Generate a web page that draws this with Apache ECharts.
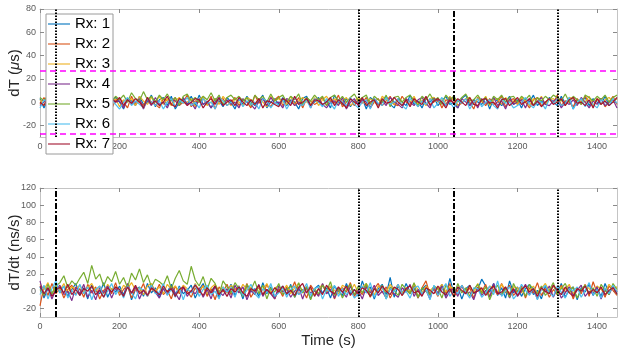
<!DOCTYPE html>
<html>
<head>
<meta charset="utf-8">
<script src="https://cdn.jsdelivr.net/npm/echarts@6/dist/echarts.min.js"></script>
<style>
	html, body { margin: 0; padding: 0; background: #fff; }
	#main { width: 626px; height: 359px; }
</style>
</head>
<body>
<div id="main"></div>
<script>
// sample times (s), one every 10 s
var times = [ 0, 10, 20, 30, 40, 50, 60, 70, 80, 90,
		100, 110, 120, 130, 140, 150, 160, 170, 180, 190,
		200, 210, 220, 230, 240, 250, 260, 270, 280, 290,
		300, 310, 320, 330, 340, 350, 360, 370, 380, 390,
		400, 410, 420, 430, 440, 450, 460, 470, 480, 490,
		500, 510, 520, 530, 540, 550, 560, 570, 580, 590,
		600, 610, 620, 630, 640, 650, 660, 670, 680, 690,
		700, 710, 720, 730, 740, 750, 760, 770, 780, 790,
		800, 810, 820, 830, 840, 850, 860, 870, 880, 890,
		900, 910, 920, 930, 940, 950, 960, 970, 980, 990,
		1000, 1010, 1020, 1030, 1040, 1050, 1060, 1070, 1080, 1090,
		1100, 1110, 1120, 1130, 1140, 1150, 1160, 1170, 1180, 1190,
		1200, 1210, 1220, 1230, 1240, 1250, 1260, 1270, 1280, 1290,
		1300, 1310, 1320, 1330, 1340, 1350, 1360, 1370, 1380, 1390,
		1400, 1410, 1420, 1430, 1440, 1450 ];

var names = [ 'Rx: 1', 'Rx: 2', 'Rx: 3', 'Rx: 4', 'Rx: 5', 'Rx: 6', 'Rx: 7' ];
var colors = [ '#0072BD', '#D95319', '#EDB120', '#7E2F8E', '#77AC30', '#4DBEEE', '#A2142F' ];

// dT (us)
var dT1 = [ 3,-5,2,-6,4,0,-3,5,-2,3, -4,1,5,-3,0,6,-5,2,-1,4, 0,-6,3,1,-3,5,-2,0,6,-4,
		2,4,-3,5,-6,0,3,-2,5,-3, 6,-2,0,-5,3,1,-4,4,0,-6, 3,-2,5,0,-3,1,6,-5,0,3,
		-2,4,-3,2,0,-6,3,5,-2,0, 4,-3,1,-5,6,0,-2,3,-4,1, 0,3,-6,4,1,-3,0,5,-2,-5,
		3,0,-3,6,-2,1,-5,3,0,4, -3,1,5,-2,0,-5,3,6,-3,2, 0,-2,4,-6,3,1,-3,0,5,-2,
		2,-5,3,0,6,-3,1,-2,4,0, -3,5,-1,3,-6,2,0,4,-3,3, 0,-2,5,-3,1,3 ];
var dT2 = [ -2,4,-3,0,3,-5,6,1,-3,0, 5,-1,-4,3,1,-3,0,4,-6,2, 3,0,-5,5,-2,1,-3,4,0,-2,
		-5,3,1,-2,4,-3,0,6,-4,1, 0,3,-2,5,-6,2,3,-3,0,4, -3,2,0,-5,6,-1,3,0,-4,2,
		5,-3,1,0,-2,4,-5,3,1,-2, 0,4,-3,2,-1,6,-4,0,3,-3, 2,-1,4,-5,0,3,-3,1,5,-2,
		-3,5,0,-2,3,-4,1,4,-2,0, 3,-5,2,0,4,-3,-1,3,0,-6, 4,1,-3,3,-2,0,5,-4,1,3,
		-2,3,0,-5,2,4,-3,0,3,-1, 6,-3,1,0,-4,3,-2,5,0,-3, 2,3,-4,0,5,-2 ];
var dT3 = [ 2,-3,4,0,-2,3,-4,2,5,-2, 0,3,-1,5,-3,2,6,-1,0,3, -4,2,0,3,-3,5,1,-2,4,0,
		5,-2,3,-3,1,4,-1,0,3,-4, 2,5,-3,0,3,-2,5,1,-3,3, 0,-3,4,2,-2,3,0,-4,5,1,
		3,0,-2,5,-3,1,4,0,-2,4, -3,2,5,0,3,-2,1,4,-3,0, 4,1,-2,3,0,-3,5,2,0,-2,
		2,-3,3,0,5,-2,1,-3,3,4, 0,3,-2,5,1,-3,0,3,4,-2, 3,0,5,-3,2,3,-2,4,0,1,
		-2,4,1,-3,3,0,5,-2,2,3, 0,2,-3,4,3,-2,1,0,5,-3, 3,-2,2,4,0,3 ];
var dT4 = [ -3,0,4,-5,1,-2,3,-6,0,4, -2,3,-5,0,4,-3,1,-6,3,0, 1,-5,3,-2,0,3,-6,2,-3,4,
		-2,0,-5,3,1,-3,4,-2,0,-6, 3,-2,1,-5,0,4,-3,2,-2,0, -5,3,0,-2,-6,1,3,-3,4,-1,
		0,-5,3,1,-3,0,-2,4,-5,2, 3,-2,-5,0,1,-3,4,-6,0,3, -3,2,0,-5,3,-2,1,-3,4,0,
		-2,-5,3,0,-3,2,4,-1,-5,3, 1,0,-3,4,-2,-5,3,0,-3,2, -5,3,-1,0,4,-3,1,-6,3,-2,
		0,2,-5,3,-3,0,4,-2,-3,1, 3,-5,0,-2,2,-3,4,0,-5,1, -2,3,-3,0,2,-5 ];
var dT5 = [ 4,1,6,-2,5,2,8,0,4,6, 1,7,2,5,-2,6,3,8,1,5, 2,6,0,8,3,1,9,2,5,0,
		6,2,7,1,4,-3,5,7,1,4, 0,5,2,8,1,6,-2,4,6,2, 5,1,4,-3,6,2,5,0,7,1,
		4,6,0,5,2,7,-2,4,1,6, 2,5,-3,4,6,1,5,0,4,7, 1,4,6,-2,5,2,0,6,-4,4,
		5,0,4,6,1,-3,5,2,7,1, 4,-2,6,2,5,0,4,7,1,2, 6,1,4,-2,5,2,6,0,4,5,
		0,5,2,6,-3,4,1,5,2,6, 4,1,7,0,5,2,-2,6,4,1, 5,2,6,0,4,6 ];
var dT6 = [ -5,2,-1,4,-6,0,3,-3,1,-4, 3,-3,0,-6,1,4,-5,0,3,-2, -6,0,4,-3,1,-2,-5,3,0,-3,
		1,-6,0,3,-4,2,-1,4,-3,0, -5,3,-1,0,-6,4,1,-3,0,-2, 3,-4,1,-2,0,-6,3,1,-5,0,
		-3,2,-6,0,4,-1,-3,2,-5,3, 0,-4,3,-1,-6,2,0,-3,4,-2, -5,0,2,-6,3,-1,-3,4,-2,0,
		2,-3,-6,3,0,-4,1,-2,3,-5, -1,4,-3,0,-5,2,-1,3,-6,0, 3,-4,0,2,-3,-6,3,-1,0,-5,
		-3,0,4,-2,-5,1,0,-6,3,-1, 2,-3,-1,4,-6,0,3,-4,1,-2, -5,2,0,-3,3,-1 ];
var dT7 = [ 0,-3,4,-2,3,-5,2,0,-3,5, -2,3,-4,1,0,5,-3,-1,3,0, 4,-3,2,-1,3,0,-5,4,-2,1,
		-3,0,5,-2,-4,3,1,-3,0,3, 2,-5,0,3,-2,4,-3,0,2,-3, 4,0,-3,2,-2,3,-5,1,0,-2,
		-4,3,1,-3,5,-2,0,3,-3,2, 1,-2,0,4,-3,2,-1,-5,3,0, -2,4,-3,0,2,-5,3,-1,0,4,
		0,-3,2,-4,3,0,-2,5,-3,1, 3,0,-5,2,-1,3,0,-3,4,-2, -3,2,3,-1,0,-5,2,3,-3,0,
		4,-2,0,3,-3,1,-4,0,3,-2, 0,3,-3,2,4,-1,0,-3,2,-5, 3,-2,1,-3,0,4 ];

// dT/dt (ns/s)
var rate1 = [ 5,-8,3,-4,8,-2,6,-6,2,9, -5,4,-9,7,0,-3,10,-7,3,-1, 6,-4,8,-10,2,5,-6,9,-2,4,
		-7,3,-1,8,-5,6,-3,1,7,-8, 2,9,-4,0,6,-7,3,-2,8,-5, 4,-9,7,-1,3,-6,10,-3,5,-8,
		1,6,-4,8,-7,2,-1,5,-9,3, 7,-2,4,-8,6,0,-5,9,-3,2, -6,12,-2,5,-9,3,8,-4,16,-7,
		6,-3,9,-1,4,-8,2,7,-5,3, -4,8,-6,15,-2,5,-9,3,7,-3, 2,14,6,-1,9,-5,4,-8,12,-2,
		5,-6,3,8,-4,1,-9,6,-2,7, -3,9,-7,2,5,-10,4,-1,8,-5, 3,-6,9,-2,6,-4 ];
var rate2 = [ -17,6,-5,9,-3,4,-8,2,7,-4, 3,-7,8,-2,5,-9,1,6,-3,10, -5,2,7,-8,4,-1,9,-6,3,-2,
		8,-4,1,-9,6,-3,5,0,-7,4, -2,7,-6,3,-10,5,-1,8,-4,2, 6,-3,9,-7,1,4,-5,8,-2,-9,
		3,-6,5,-1,11,-4,2,-8,7,0, -5,8,-3,6,-9,2,4,-1,10,-6, 2,-4,7,-7,3,9,-2,5,-8,1,
		8,-5,2,-3,6,-8,4,12,-4,3, -6,5,-2,9,-7,1,6,-3,4,-8, 5,-1,8,-6,2,-4,9,-2,7,-5,
		1,6,-8,4,-2,10,-5,3,-7,2, -4,7,-1,5,-9,3,-3,8,-6,11, -2,4,-7,6,1,-5 ];
var rate3 = [ 8,2,10,-3,6,1,9,-2,5,3, 7,-1,4,9,0,6,-3,8,2,5, -2,7,3,10,1,4,-4,6,9,0,
		5,-3,8,2,6,-1,7,3,-2,9, 1,6,-3,4,8,0,5,-2,7,3, -1,8,2,5,-4,6,1,9,-2,4,
		6,0,7,-3,4,9,-1,5,2,-4, 3,8,-2,6,1,-3,7,4,0,8, -2,5,9,1,-4,6,3,-1,8,2,
		7,-3,4,0,9,2,-2,6,1,5, 2,8,-1,5,3,-4,7,0,6,-2, 9,1,-3,6,4,-1,8,2,-2,5,
		4,-2,7,1,6,-3,3,9,0,6, -1,5,2,8,-3,4,0,7,3,-2, 6,2,-1,8,3,5 ];
var rate4 = [ 12,-6,4,-9,2,7,-4,0,-11,5, -3,8,-7,1,-10,4,-2,6,-8,3, 0,-6,9,-3,5,-9,2,-5,7,-1,
		-8,3,-4,6,-2,-10,5,-6,1,-3, 4,-7,2,-9,6,-1,-5,3,-8,7, -2,5,-10,1,-4,8,-6,2,-3,-9,
		6,-1,3,-7,0,5,-9,4,-2,1, -6,9,-3,2,-8,4,-1,-7,6,-4, 1,-9,5,-2,7,-5,0,-8,3,-3,
		-7,4,-1,8,-6,2,-4,1,-9,5, -2,6,-8,0,3,-6,7,-3,-1,-10, 4,-5,1,-7,9,-2,-4,5,-8,2,
		-6,0,8,-4,2,-9,3,-1,6,-7, 3,-8,-2,5,-5,1,7,-6,0,-3, 5,-9,2,-4,6,-1 ];
var rate5 = [ 2,-5,8,-3,6,10,18,4,12,7, 15,22,9,30,14,20,6,17,11,23, 8,16,4,21,13,26,10,19,5,14,
		11,7,18,3,15,24,12,8,29,13, 6,17,2,15,9,-4,12,5,-2,10, 3,-6,8,1,12,-3,7,-9,4,-1,
		9,-4,2,6,-7,10,-2,5,-10,3, -3,7,0,11,-5,4,-8,2,8,-4, 6,-2,9,-6,3,-1,7,-9,5,1,
		-5,8,2,-3,10,-7,4,0,-4,6, 3,-8,7,1,-5,9,-2,4,-6,2, 8,-3,5,-10,1,7,-4,3,-7,9,
		-1,4,-6,8,2,-3,6,-5,1,10, -4,3,9,-2,5,-8,2,7,-3,4, -6,8,1,-4,9,2 ];
var rate6 = [ -4,7,-9,3,12,-2,6,-8,1,-5, 8,-3,5,-10,2,6,-7,0,9,-4, 3,-8,6,-2,-9,4,1,-6,7,-3,
		-1,9,-5,2,-7,5,-10,3,-2,8, -6,2,7,-4,0,-9,5,-1,4,-7, 6,-5,1,8,-3,-8,3,-2,9,-6,
		-2,4,-7,2,6,-4,0,9,-5,3, 5,-9,2,-1,7,-6,3,-4,1,-8, -3,6,-2,10,-7,1,5,-9,3,-1,
		8,-4,0,-8,4,6,-3,2,-10,7, -5,2,9,-6,1,-3,7,-1,-8,4, 3,-7,-2,6,-4,12,-6,0,5,-9,
		-3,8,1,-5,4,-10,2,7,-2,-6, 6,-1,-8,3,0,5,-7,1,10,-4, 2,-8,4,-3,7,-1 ];
var rate7 = [ 6,-3,4,-6,1,5,-2,8,-4,2, -5,3,0,6,-4,1,-7,4,-1,5, 2,-6,5,-2,7,-3,1,-5,4,0,
		-4,6,-1,3,-6,2,5,-3,0,7, 1,-5,4,-2,6,-4,2,-6,3,-1, 5,-2,-6,3,0,7,-4,2,-3,4,
		-1,6,-3,1,-5,4,9,-2,5,-6, 3,-4,7,0,-3,5,-1,6,-5,2, -3,4,1,-6,3,-2,6,0,-4,5,
		2,-5,3,6,-2,0,-6,4,1,-3, 6,-1,-4,3,-6,5,1,-3,7,-2, 0,4,-5,2,6,-3,-1,5,-4,3,
		-5,2,6,-1,3,-6,4,0,-3,7, 1,-4,5,-2,-6,3,0,6,-3,2, -2,5,-4,1,4,-3 ];

var dTSets = [ dT1, dT2, dT3, dT4, dT5, dT6, dT7 ];
var rateSets = [ rate1, rate2, rate3, rate4, rate5, rate6, rate7 ];

// reference marks
var topThreshold = [ 27, -27 ];
var eventTimes = [ 40, 800, 1040, 1300 ];
var topEventStyle = [ 'dot', 'dot', 'dashdot', 'dot' ];
var bottomEventStyle = [ 'dashdot', 'dot', 'dashdot', 'dot' ];

var xTicks = [ 0, 200, 400, 600, 800, 1000, 1200, 1400 ];
var topYTicks = [ -20, 0, 20, 40, 60, 80 ];
var bottomYTicks = [ -20, 0, 20, 40, 60, 80, 100, 120 ];

function pairs(vals) {
	var out = [];
	for (var i = 0; i < times.length; i++) {
		out.push([ times[i], vals[i] ]);
	}
	return out;
}

var tickColor = '#8a8a8a';
var frameLine = { show : true, onZero : false, lineStyle : { color : '#c4c4c4', width : 1 } };

function plainNumber(v) {
	return String(v);
}

function xAxisOf(grid, pos, showLabels) {
	return {
		type : 'value',
		gridIndex : grid,
		position : pos,
		min : 0,
		max : 1450,
		axisLine : frameLine,
		axisTick : {
			inside : true,
			length : 4,
			customValues : xTicks,
			lineStyle : { color : tickColor }
		},
		axisLabel : {
			show : showLabels,
			customValues : xTicks,
			formatter : plainNumber,
			color : '#5a5a5a',
			fontSize : 9,
			margin : 5
		},
		splitLine : { show : false }
	};
}

function yAxisOf(grid, pos, max, ticks, showLabels) {
	return {
		type : 'value',
		gridIndex : grid,
		position : pos,
		min : -30,
		max : max,
		axisLine : frameLine,
		axisTick : {
			inside : true,
			length : 4,
			customValues : ticks,
			lineStyle : { color : tickColor }
		},
		axisLabel : {
			show : showLabels,
			customValues : ticks,
			formatter : plainNumber,
			color : '#5a5a5a',
			fontSize : 9,
			margin : 4
		},
		splitLine : { show : false }
	};
}

function eventLines(styles) {
	var out = [];
	for (var i = 0; i < eventTimes.length; i++) {
		out.push({
			xAxis : eventTimes[i],
			lineStyle : {
				color : '#000',
				width : 2,
				type : styles[i] == 'dot' ? [ 1.5, 1.5 ] : [ 6, 2, 2, 2 ]
			}
		});
	}
	return out;
}

var series = [];
for (var k = 0; k < 7; k++) {
	series.push({
		name : names[k],
		type : 'line',
		xAxisIndex : 0,
		yAxisIndex : 0,
		data : pairs(dTSets[k]),
		symbol : 'none',
		color : colors[k],
		lineStyle : { width : 1.2 }
	});
}
for (var k = 0; k < 7; k++) {
	series.push({
		name : names[k],
		type : 'line',
		xAxisIndex : 2,
		yAxisIndex : 2,
		data : pairs(rateSets[k]),
		symbol : 'none',
		color : colors[k],
		lineStyle : { width : 1.2 }
	});
}

var thresholdMarks = [];
for (var i = 0; i < topThreshold.length; i++) {
	thresholdMarks.push({
		yAxis : topThreshold[i],
		lineStyle : { color : '#ff00ff', width : 1.5, type : [ 6, 4 ] }
	});
}

series.push({
	type : 'line',
	xAxisIndex : 0,
	yAxisIndex : 0,
	data : [],
	markLine : {
		silent : true,
		symbol : 'none',
		label : { show : false },
		data : eventLines(topEventStyle).concat(thresholdMarks)
	}
});
series.push({
	type : 'line',
	xAxisIndex : 2,
	yAxisIndex : 2,
	data : [],
	markLine : {
		silent : true,
		symbol : 'none',
		label : { show : false },
		data : eventLines(bottomEventStyle)
	}
});

var topY = yAxisOf(0, 'left', 80, topYTicks, true);
topY.name = '{n|dT (}{m|μ}{n|s)}';
topY.nameLocation = 'middle';
topY.nameGap = 18;
topY.nameMoveOverlap = false;
topY.nameTextStyle = {
	rich : {
		n : { fontSize : 15, color : '#262626' },
		m : { fontSize : 15, color : '#262626', fontStyle : 'italic' }
	}
};

var bottomY = yAxisOf(1, 'left', 120, bottomYTicks, true);
bottomY.name = 'dT/dt (ns/s)';
bottomY.nameLocation = 'middle';
bottomY.nameGap = 18;
bottomY.nameMoveOverlap = false;
bottomY.nameTextStyle = { fontSize : 15, color : '#262626' };

var bottomX = xAxisOf(1, 'bottom', true);
bottomX.name = 'Time (s)';
bottomX.nameLocation = 'middle';
bottomX.nameGap = 16;
bottomX.nameMoveOverlap = false;
bottomX.nameTextStyle = { fontSize : 15, color : '#262626' };

var chart = echarts.init(document.getElementById('main'));
chart.setOption({
	animation : false,
	backgroundColor : '#fff',
	textStyle : { fontFamily : 'Liberation Sans, Arial, sans-serif' },
	grid : [ {
		left : 40,
		right : 9,
		top : 9,
		height : 128,
		outerBoundsMode : 'none'
	}, {
		left : 40,
		right : 9,
		top : 188,
		height : 129,
		outerBoundsMode : 'none'
	} ],
	legend : {
		data : names,
		orient : 'vertical',
		left : 46,
		top : 14,
		padding : [ 2, 3, 2, 2 ],
		itemGap : 4,
		itemWidth : 22,
		itemHeight : 2,
		icon : 'rect',
		itemStyle : { opacity : 0.55 },
		backgroundColor : '#fff',
		borderColor : '#9a9a9a',
		borderWidth : 1,
		textStyle : { fontSize : 15, color : '#000', lineHeight : 16 }
	},
	xAxis : [ xAxisOf(0, 'bottom', true), xAxisOf(0, 'top', false), bottomX, xAxisOf(1, 'top', false) ],
	yAxis : [ topY, yAxisOf(0, 'right', 80, topYTicks, false), bottomY, yAxisOf(1, 'right', 120, bottomYTicks, false) ],
	series : series
});
</script>
</body>
</html>
